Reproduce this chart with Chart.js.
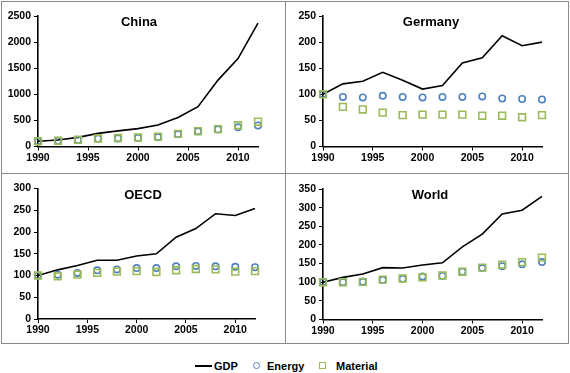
<!DOCTYPE html>
<html>
<head>
<meta charset="utf-8">
<script src="https://cdn.jsdelivr.net/npm/chart.js@4.4.1/dist/chart.umd.min.js"></script>
<style>
  html, body { margin: 0; padding: 0; background: #fff; }
  body { width: 570px; height: 373px; position: relative; overflow: hidden;
         font-family: "Liberation Sans", Arial, sans-serif; }
  .frame { position: absolute; left: 1px; top: 1px; width: 566px; height: 341px;
           border: 1px solid #8a8a8a; box-sizing: content-box; }
  .vdiv { position: absolute; left: 285px; top: 1px; width: 1px; height: 342px; background: #8a8a8a; }
  .hdiv { position: absolute; left: 1px; top: 173px; width: 567px; height: 1px; background: #8a8a8a; }
  .panel { position: absolute; }
  .panel canvas { display: block; }
  .title { position: absolute; font-weight: bold; font-size: 13px; color: #000;
           transform: translateX(-50%); white-space: nowrap; }
  .legend { position: absolute; top: 359px; left: 0; width: 570px; height: 14px;
            font-weight: bold; font-size: 11px; color: #000; }
  .legend span { position: absolute; top: 0; line-height: 14px; }
  .sw-line { position: absolute; top: 6px; width: 17px; height: 2px; background: #000; }
  .sw-circ { position: absolute; top: 3px; width: 5px; height: 5px; border: 1.5px solid #4f81bd; border-radius: 50%; }
  .sw-rect { position: absolute; top: 3px; width: 5px; height: 5px; border: 1.5px solid #9bbb59; }
</style>
</head>
<body>
<div class="frame"></div>
<div class="vdiv"></div>
<div class="hdiv"></div>

<div class="panel" style="left:2px;top:2px"><canvas id="c-china" width="282" height="170"></canvas></div>
<div class="panel" style="left:287px;top:2px"><canvas id="c-germany" width="281" height="170"></canvas></div>
<div class="panel" style="left:2px;top:174px"><canvas id="c-oecd" width="282" height="168"></canvas></div>
<div class="panel" style="left:287px;top:174px"><canvas id="c-world" width="281" height="168"></canvas></div>

<div class="title" style="left:139px;top:14px">China</div>
<div class="title" style="left:431px;top:14px">Germany</div>
<div class="title" style="left:143px;top:187px">OECD</div>
<div class="title" style="left:430px;top:187px">World</div>

<div class="legend">
  <div class="sw-line" style="left:195px"></div><span style="left:214px">GDP</span>
  <div class="sw-circ" style="left:253px"></div><span style="left:267px">Energy</span>
  <div class="sw-rect" style="left:319px"></div><span style="left:336px">Material</span>
</div>

<script>
// Index values, 1990 = 100, sampled every two years.
const years = [1990, 1992, 1994, 1996, 1998, 2000, 2002, 2004, 2006, 2008, 2010, 2012];
const xTicks = [1990, 1995, 2000, 2005, 2010];

const chinaGdp      = [100, 125, 175, 252, 300, 342, 412, 555, 763, 1272, 1685, 2362];
const chinaEnergy   = [100, 108, 125, 148, 155, 163, 178, 236, 290, 326, 368, 402];
const chinaMaterial = [100, 110, 128, 153, 163, 172, 190, 242, 293, 332, 407, 475];
const chinaYTicks   = [0, 500, 1000, 1500, 2000, 2500];

const germanyGdp      = [100, 120, 125, 142, 127, 110, 117, 160, 170, 212, 193, 200];
const germanyEnergy   = [100, 95, 94, 97, 95, 94, 95, 95, 96, 92, 91, 90];
const germanyMaterial = [100, 76, 71, 65, 60, 61, 61, 61, 59, 59, 56, 60];
const germanyYTicks   = [0, 50, 100, 150, 200, 250];

const oecdGdp      = [100, 113, 123, 135, 135, 145, 150, 188, 208, 242, 238, 254];
const oecdEnergy   = [100, 102, 106, 112, 114, 117, 117, 121, 122, 121, 120, 119];
const oecdMaterial = [100, 98, 102, 106, 109, 110, 108, 112, 115, 114, 109, 110];
const oecdYTicks   = [0, 50, 100, 150, 200, 250, 300];

const worldGdp      = [100, 113, 122, 139, 138, 146, 152, 195, 229, 283, 293, 330];
const worldEnergy   = [100, 100, 101, 106, 109, 115, 117, 128, 138, 143, 148, 154];
const worldMaterial = [100, 100, 101, 107, 110, 113, 118, 128, 139, 147, 154, 166];
const worldYTicks   = [0, 50, 100, 150, 200, 250, 300, 350];

const FONT = { family: '"Liberation Sans", Arial, sans-serif', size: 10.5, weight: 'bold' };

const pts = vals => vals.map((v, i) => ({ x: years[i], y: v }));

function makeChart(id, gdp, energy, material, yTicks, pad, xHeight) {
  const tickList = arr => arr.map(v => ({ value: v }));
  return new Chart(document.getElementById(id), {
    type: 'line',
    data: {
      datasets: [
        // first dataset is drawn on top
        { label: 'Material', data: pts(material), showLine: false, pointStyle: 'rect',
          pointRadius: 4.8, borderColor: '#9bbb59', backgroundColor: 'rgba(0,0,0,0)',
          pointBorderWidth: 1.6 },
        { label: 'Energy', data: pts(energy), showLine: false, pointStyle: 'circle',
          pointRadius: 3.2, borderColor: '#4f81bd', backgroundColor: 'rgba(0,0,0,0)',
          pointBorderWidth: 1.6 },
        { label: 'GDP', data: pts(gdp), borderColor: '#000', borderWidth: 1.6,
          pointRadius: 0, tension: 0, fill: false },
      ],
    },
    options: {
      responsive: false,
      animation: false,
      clip: false,
      layout: { padding: pad },
      plugins: { legend: { display: false }, tooltip: { enabled: false }, title: { display: false } },
      scales: {
        x: {
          type: 'linear', min: 1990, max: 2012,
          afterBuildTicks: s => { s.ticks = tickList(xTicks); },
          afterFit: s => { s.height = xHeight; },
          grid: { drawOnChartArea: false, drawTicks: true, tickLength: 4, color: '#000', lineWidth: 1 },
          border: { display: true, color: '#000', width: 1.6 },
          ticks: { color: '#000', font: FONT, padding: 1, maxRotation: 0, autoSkip: false,
                   callback: v => String(v) },
        },
        y: {
          min: 0, max: yTicks[yTicks.length - 1],
          afterBuildTicks: s => { s.ticks = tickList(yTicks); },
          afterFit: s => { s.width = 36; },
          grid: { drawOnChartArea: false, drawTicks: true, tickLength: 4, color: '#000', lineWidth: 1 },
          border: { display: true, color: '#000', width: 1.6 },
          ticks: { color: '#000', font: FONT, padding: 3, callback: v => String(v) },
        },
      },
    },
  });
}

makeChart('c-china', chinaGdp, chinaEnergy, chinaMaterial, chinaYTicks,
  { top: 14, right: 26, left: 0, bottom: 0 }, 25.5);
makeChart('c-germany', germanyGdp, germanyEnergy, germanyMaterial, germanyYTicks,
  { top: 14, right: 26, left: 0, bottom: 0 }, 25.5);
makeChart('c-oecd', oecdGdp, oecdEnergy, oecdMaterial, oecdYTicks,
  { top: 14.5, right: 29, left: 0, bottom: 0 }, 23);
makeChart('c-world', worldGdp, worldEnergy, worldMaterial, worldYTicks,
  { top: 15, right: 26, left: 0, bottom: 0 }, 22.5);
</script>
</body>
</html>
